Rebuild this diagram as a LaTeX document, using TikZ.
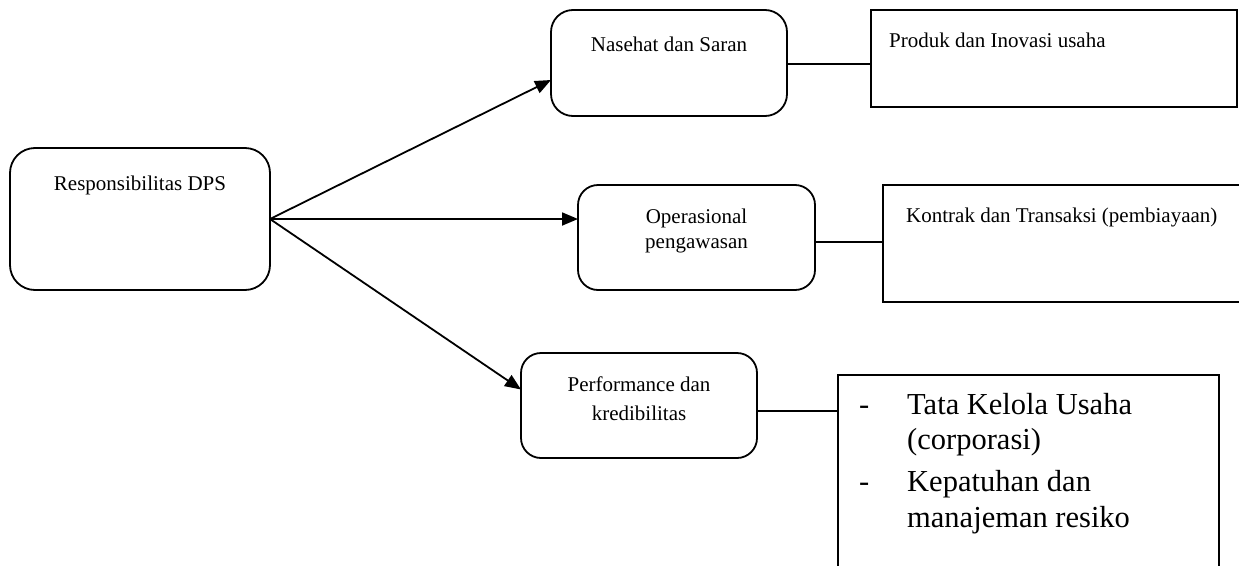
\documentclass[tikz,border=0pt]{standalone}
\usepackage{fontspec}
\setmainfont{Liberation Serif}
\usetikzlibrary{arrows.meta,calc}
\begin{document}
\begin{tikzpicture}[x=1pt,y=-1pt,
  rbox/.style={draw,line width=1.8pt,rounded corners=22pt,inner sep=0pt,outer sep=0pt},
  sbox/.style={draw,line width=1.8pt,inner sep=0pt,outer sep=0pt},
  lbl/.style={inner sep=0pt,font=\fontsize{21}{25}\selectfont},
  big/.style={inner sep=0pt,font=\fontsize{30.5}{35}\selectfont,anchor=base west},
  arr/.style={line width=1.8pt,-{Triangle[length=16pt,width=13pt]}},
  con/.style={line width=1.8pt}]
\useasboundingbox (0,0) rectangle (1239,565);
\clip (0,0) rectangle (1239,565);
\fill[white] (0,0) rectangle (1239,565);
% boxes
\node[rbox,rounded corners=25pt,minimum width=260pt,minimum height=142pt] (dps) at (140,219) {};
\node[rbox,minimum width=236pt,minimum height=106pt] (nas) at (669,63) {};
\node[sbox,minimum width=366pt,minimum height=97pt] (prod) at (1054,58.5) {};
\node[rbox,rounded corners=20pt,minimum width=237pt,minimum height=105pt] (ops) at (696.5,237.5) {};
\node[sbox,minimum width=370pt,minimum height=117pt] (kon) at (1068,243.5) {};
\node[rbox,rounded corners=20pt,minimum width=236pt,minimum height=105pt] (perf) at (639,405.5) {};
\node[sbox,minimum width=381pt,minimum height=230pt] (tata) at (1028.5,490) {};
% texts
\node[lbl,anchor=base] (t1) at (140,190) {Responsibilitas DPS};
\node[lbl,anchor=base] (t2) at (669,51) {Nasehat dan Saran};
\node[lbl,anchor=base west] (t3) at (889,47) {Produk dan Inovasi usaha};
\node[lbl,anchor=base] (t4) at (696.5,223) {Operasional};
\node[lbl,anchor=base] (t5) at (696.5,248) {pengawasan};
\node[lbl,anchor=base west] (t6) at (906,222) {Kontrak dan Transaksi (pembiayaan)};
\node[lbl,anchor=base] (t7) at (639,391) {Performance dan};
\node[lbl,anchor=base] (t8) at (639,420) {kredibilitas};
\node[big] (d1) at (859,414) {-};
\node[big] (u1) at (907,414) {Tata Kelola Usaha};
\node[big] (u2) at (907,449) {(corporasi)};
\node[big] (d2) at (859,491) {-};
\node[big] (u3) at (907,491) {Kepatuhan dan};
\node[big] (u4) at (907,527) {manajeman resiko};
% arrows
\draw[arr] (dps.east) -- ([yshift=-17pt]nas.west);
\draw[arr] (dps.east) -- (dps.east -| ops.west);
\draw[arr] (dps.east) -- ([yshift=16pt]perf.west);
% connectors
\draw[con] ([yshift=-1pt]nas.east) -- ([yshift=-1pt]nas.east -| prod.west);
\draw[con] ([yshift=-4.5pt]ops.east) -- ([yshift=-4.5pt]ops.east -| kon.west);
\draw[con] ([yshift=-5.5pt]perf.east) -- ([yshift=-5.5pt]perf.east -| tata.west);
\end{tikzpicture}
\end{document}
